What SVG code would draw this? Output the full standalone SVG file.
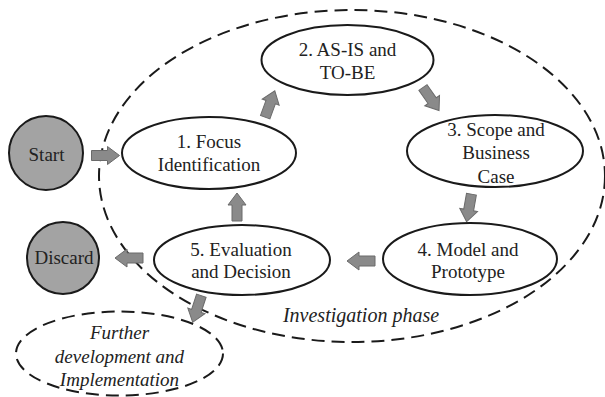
<svg xmlns="http://www.w3.org/2000/svg" width="605" height="397" viewBox="0 0 605 397">
<defs>
<style>
.node{fill:#fff;stroke:#1a1a1a;stroke-width:2}
.term{fill:#a3a3a3;stroke:#1a1a1a;stroke-width:2}
.dash{fill:none;stroke:#1a1a1a;stroke-width:2;stroke-dasharray:13 7}
.t{font-family:"Liberation Serif","Times New Roman",serif;font-size:19px;fill:#222;text-anchor:middle}
.i{font-style:italic}
.arr{fill:#8a8a8a;stroke:#6a6a6a;stroke-width:1}
</style>
<polygon id="arrow" points="-14,-5 2,-5 2,-9 14,0 2,9 2,5 -14,5"/>
</defs>
<rect width="605" height="397" fill="#fff"/>
<g id="phase">
<ellipse class="dash" cx="352" cy="176" rx="253" ry="166"/>
<text class="t i" x="361" y="322" style="font-size:20px">Investigation phase</text>
</g>
<g id="connectors">
<use href="#arrow" class="arr" transform="translate(105.5,155.5)"/>
<use href="#arrow" class="arr" transform="translate(270,104) rotate(-70)"/>
<use href="#arrow" class="arr" transform="translate(431,99) rotate(55)"/>
<use href="#arrow" class="arr" transform="translate(469,208) rotate(100)"/>
<use href="#arrow" class="arr" transform="translate(361,261) rotate(180)"/>
<use href="#arrow" class="arr" transform="translate(237,207) rotate(-90)"/>
<use href="#arrow" class="arr" transform="translate(129,258) rotate(180)"/>
<use href="#arrow" class="arr" transform="translate(197,309) rotate(108)"/>
</g>
<g id="start">
<circle class="term" cx="46" cy="153" r="37"/>
<text class="t" x="46.5" y="161">Start</text>
</g>
<g id="discard">
<circle class="term" cx="63" cy="258" r="36"/>
<text class="t" x="64" y="264">Discard</text>
</g>
<g id="n1">
<ellipse class="node" cx="209" cy="153" rx="87" ry="36"/>
<text class="t" x="209" y="148">1. Focus</text>
<text class="t" x="209" y="171">Identification</text>
</g>
<g id="n2">
<ellipse class="node" cx="347.5" cy="60" rx="86" ry="35"/>
<text class="t" x="347.5" y="56">2. AS-IS and</text>
<text class="t" x="347.5" y="79">TO-BE</text>
</g>
<g id="n3">
<ellipse class="node" cx="495" cy="151" rx="88" ry="36"/>
<text class="t" x="496" y="136">3. Scope and</text>
<text class="t" x="496" y="159">Business</text>
<text class="t" x="496" y="183">Case</text>
</g>
<g id="n4">
<ellipse class="node" cx="470" cy="259" rx="87" ry="36"/>
<text class="t" x="468" y="256">4. Model and</text>
<text class="t" x="468" y="278">Prototype</text>
</g>
<g id="n5">
<ellipse class="node" cx="242" cy="260" rx="88" ry="35"/>
<text class="t" x="241" y="256">5. Evaluation</text>
<text class="t" x="241" y="278">and Decision</text>
</g>
<g id="further">
<ellipse class="dash" cx="119.5" cy="353.5" rx="103.5" ry="42"/>
<text class="t i" x="119.5" y="339">Further</text>
<text class="t i" x="119.5" y="363">development and</text>
<text class="t i" x="119.5" y="386">Implementation</text>
</g>
</svg>
